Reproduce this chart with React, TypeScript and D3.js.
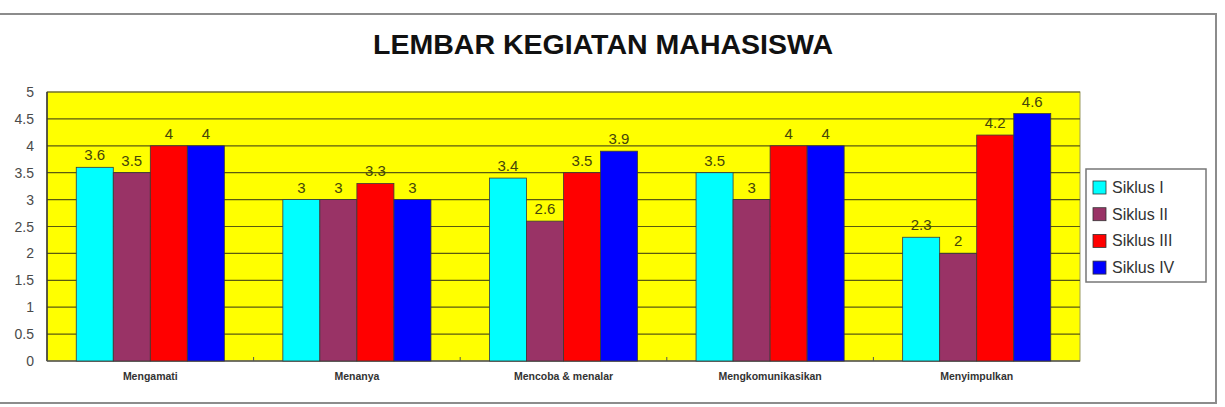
import React, { useRef, useEffect } from 'react';
import * as d3 from 'd3';

const categories = ['Mengamati', 'Menanya', 'Mencoba & menalar', 'Mengkomunikasikan', 'Menyimpulkan'];
const seriesNames = ['Siklus I', 'Siklus II', 'Siklus III', 'Siklus IV'];
const siklus1 = [3.6, 3, 3.4, 3.5, 2.3];
const siklus2 = [3.5, 3, 2.6, 3, 2];
const siklus3 = [4, 3.3, 3.5, 4, 4.2];
const siklus4 = [4, 3, 3.9, 4, 4.6];
const yTicks = [0, 0.5, 1, 1.5, 2, 2.5, 3, 3.5, 4, 4.5, 5];
const colors = ['#00FFFF', '#993366', '#FF0000', '#0000FF'];

const App: React.FC = () => {
    const svgRef = useRef<SVGSVGElement>(null);

    useEffect(() => {
        if (!svgRef.current) return;
        const svg = d3.select(svgRef.current);
        svg.selectAll('*').remove();

        const plot = { left: 47, top: 92, right: 1080, bottom: 361 };
        const series = [siklus1, siklus2, siklus3, siklus4];

        // outer frame
        svg.append('rect')
            .attr('x', -2).attr('y', 14)
            .attr('width', 1218).attr('height', 389)
            .attr('fill', '#fff')
            .attr('stroke', '#8c8c8c').attr('stroke-width', 2);

        svg.append('text')
            .attr('x', 603).attr('y', 54)
            .attr('text-anchor', 'middle')
            .attr('font-family', 'Liberation Sans, Arial, sans-serif')
            .attr('font-weight', 'bold')
            .attr('font-size', 28)
            .attr('textLength', 460)
            .attr('lengthAdjust', 'spacingAndGlyphs')
            .attr('fill', '#111')
            .text('LEMBAR KEGIATAN MAHASISWA');

        const x0 = d3.scaleBand().domain(categories).range([plot.left, plot.right]).paddingInner(0).paddingOuter(0);
        const x1 = d3.scaleBand().domain(seriesNames).range([0, x0.bandwidth()]).paddingOuter(0.79).paddingInner(0);
        const y = d3.scaleLinear().domain([0, 5]).range([plot.bottom, plot.top]);

        svg.append('rect')
            .attr('x', plot.left).attr('y', plot.top)
            .attr('width', plot.right - plot.left).attr('height', plot.bottom - plot.top)
            .attr('fill', '#FFFF00')
            .attr('stroke', '#9a9a60').attr('stroke-width', 1);

        // gridlines
        svg.append('g')
            .selectAll('line')
            .data(yTicks.filter(t => t > 0))
            .join('line')
            .attr('x1', plot.left).attr('x2', plot.right)
            .attr('y1', d => y(d)).attr('y2', d => y(d))
            .attr('stroke', '#5a5a10').attr('stroke-width', 1.2);

        // y tick labels
        svg.append('g')
            .selectAll('text')
            .data(yTicks)
            .join('text')
            .attr('x', 34).attr('y', d => y(d) + 5)
            .attr('text-anchor', 'end')
            .attr('font-family', 'Liberation Sans, Arial, sans-serif')
            .attr('font-size', 14)
            .attr('fill', '#4a4a4a')
            .text(d => String(d));

        // y axis line + x axis line
        svg.append('line')
            .attr('x1', plot.left).attr('x2', plot.left)
            .attr('y1', plot.top).attr('y2', plot.bottom)
            .attr('stroke', '#333').attr('stroke-width', 1.5);
        svg.append('line')
            .attr('x1', plot.left).attr('x2', plot.right)
            .attr('y1', plot.bottom).attr('y2', plot.bottom)
            .attr('stroke', '#555').attr('stroke-width', 1.5);

        // category separators
        svg.append('g')
            .selectAll('line')
            .data(categories.slice(1))
            .join('line')
            .attr('x1', d => x0(d)!).attr('x2', d => x0(d)!)
            .attr('y1', plot.bottom).attr('y2', plot.bottom - 4)
            .attr('stroke', '#555');

        // bars
        const groups = svg.append('g')
            .selectAll('g')
            .data(categories)
            .join('g')
            .attr('transform', d => `translate(${x0(d)},0)`);

        groups.selectAll('rect')
            .data((_, i) => series.map((s, k) => ({ name: seriesNames[k], value: s[i], k })))
            .join('rect')
            .attr('x', d => x1(d.name)!)
            .attr('y', d => y(d.value))
            .attr('width', x1.bandwidth())
            .attr('height', d => plot.bottom - y(d.value))
            .attr('fill', d => colors[d.k])
            .attr('stroke', '#3a3a3a').attr('stroke-width', 0.8);

        groups.selectAll('text')
            .data((_, i) => series.map((s, k) => ({ name: seriesNames[k], value: s[i], k })))
            .join('text')
            .attr('x', d => x1(d.name)! + x1.bandwidth() / 2)
            .attr('y', d => y(d.value) - 7)
            .attr('text-anchor', 'middle')
            .attr('font-family', 'Liberation Sans, Arial, sans-serif')
            .attr('font-size', 15)
            .attr('fill', '#45450a')
            .text(d => String(d.value));

        // category labels
        svg.append('g')
            .selectAll('text')
            .data(categories)
            .join('text')
            .attr('x', d => x0(d)! + x0.bandwidth() / 2)
            .attr('y', 380)
            .attr('text-anchor', 'middle')
            .attr('font-family', 'Liberation Sans, Arial, sans-serif')
            .attr('font-weight', 'bold')
            .attr('font-size', 10.5)
            .attr('fill', '#333')
            .text(d => d);

        // legend
        const legend = svg.append('g').attr('transform', 'translate(1086,169)');
        legend.append('rect')
            .attr('width', 120).attr('height', 113)
            .attr('fill', '#fff')
            .attr('stroke', '#777').attr('stroke-width', 1.5);
        seriesNames.forEach((name, k) => {
            const ly = 18 + k * 26.7;
            legend.append('rect')
                .attr('x', 7).attr('y', ly - 6)
                .attr('width', 13).attr('height', 13)
                .attr('fill', colors[k])
                .attr('stroke', '#333').attr('stroke-width', 0.8);
            legend.append('text')
                .attr('x', 26).attr('y', ly + 6)
                .attr('font-family', 'Liberation Sans, Arial, sans-serif')
                .attr('font-size', 16)
                .attr('fill', '#333')
                .text(name);
        });
    }, []);

    return (
        <div style={{ position: 'absolute', left: 0, top: 0 }}>
            <svg ref={svgRef} width={1225} height={407} viewBox="0 0 1225 407" />
        </div>
    );
};

export default App;
